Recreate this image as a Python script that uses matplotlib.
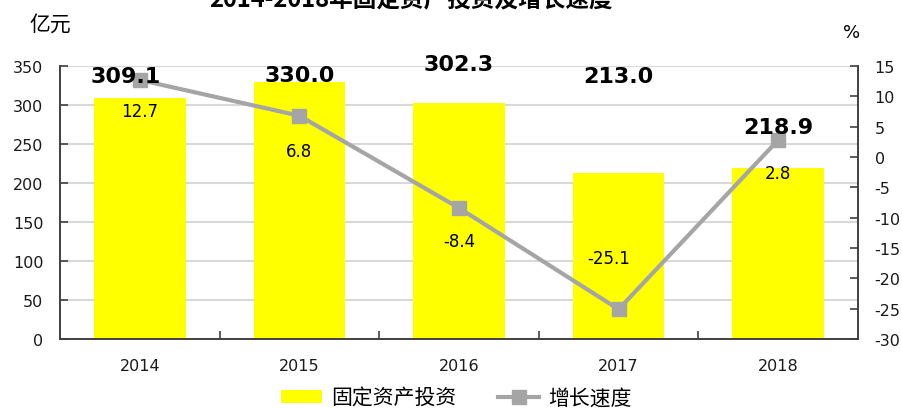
import matplotlib
matplotlib.use("Agg")
import matplotlib.pyplot as plt
from matplotlib.lines import Line2D
from matplotlib.patches import Patch

plt.rcParams['font.family'] = ['Noto Sans CJK SC', 'DejaVu Sans']
plt.rcParams['axes.unicode_minus'] = False

years = ['2014', '2015', '2016', '2017', '2018']
investment = [309.1, 330.0, 302.3, 213.0, 218.9]
growth = [12.7, 6.8, -8.4, -25.1, 2.8]

# label anchor positions (data units)
inv_label_y = [337, 338, 352, 337, 272]
inv_label_dx = [-0.09, 0.0, 0.0, 0.0, 0.0]
growth_label_y = [7.6, 1.0, -13.8, -16.6, -2.6]
growth_label_dx = [0.0, 0.0, 0.0, -0.06, 0.0]

fig = plt.figure(figsize=(9.02, 4.10), dpi=100)
ax = fig.add_axes([60/902, 70/410, 798/902, 273/410])
ax2 = ax.twinx()

x = list(range(len(years)))
ax.bar(x, investment, width=0.575, color='#FFFF00', zorder=2)
ax.set_xlim(-0.5, 4.5)
ax.set_ylim(0, 350)
ax.set_yticks(range(0, 351, 50))
ax.yaxis.grid(True, color='#D9D9D9', linewidth=1.5, zorder=0)
ax.set_axisbelow(True)

ax2.plot(x, growth, color='#A5A5A5', linewidth=3, marker='s', markersize=10,
         markerfacecolor='#A5A5A5', markeredgecolor='#A5A5A5', zorder=3)
ax2.set_ylim(-30, 15)
ax2.set_yticks(range(-30, 16, 5))

ax.set_xticks(x)
ax.set_xticklabels(years)
ax.set_xticks([0.5, 1.5, 2.5, 3.5], minor=True)
ax.tick_params(axis='x', which='major', length=0, pad=14, labelsize=11.5)
ax.tick_params(axis='x', which='minor', direction='in', length=6, width=1.2, color='#404040')
ax.tick_params(axis='y', direction='in', length=6, width=1.2, color='#404040', pad=12, labelsize=11.5)
ax2.tick_params(axis='y', direction='in', length=6, width=1.2, color='#404040', pad=12, labelsize=11.5)
for lab in ax.get_xticklabels() + ax.get_yticklabels() + ax2.get_yticklabels():
    lab.set_family('DejaVu Sans')
    lab.set_color('#1a1a1a')

for a in (ax, ax2):
    a.spines['top'].set_visible(False)
    for s in ('left', 'right', 'bottom'):
        a.spines[s].set_color('#404040')
        a.spines[s].set_linewidth(1.2)

for i, v in enumerate(investment):
    ax2.text(i + inv_label_dx[i], inv_label_y[i], f'{v:.1f}', ha='center', va='center',
             fontsize=16, fontweight='bold', color='black', family='DejaVu Sans', zorder=5,
             transform=ax.transData)
for i, v in enumerate(growth):
    ax2.text(i + growth_label_dx[i], growth_label_y[i], f'{v:.1f}', ha='center', va='center',
             fontsize=12, color='black', family='DejaVu Sans', zorder=5)

fig.text(50/902, 1 - 25/410, '亿元', ha='center', va='center', fontsize=15)
fig.text(852/902, 1 - 33/410, '%', ha='center', va='center', fontsize=13, family='DejaVu Sans')
fig.text(411/902, 1 - 7/410, '2014-2018年固定资产投资及增长速度', ha='center', va='baseline',
         fontsize=17, fontweight='bold')

handles = [Patch(facecolor='#FFFF00', edgecolor='none'),
           Line2D([0], [0], color='#A5A5A5', linewidth=3, marker='s', markersize=10)]
fig.legend(handles, ['固定资产投资', '增长速度'], loc='center', bbox_to_anchor=(456/902, 1 - 399/410),
           ncol=2, frameon=False, fontsize=15, handlelength=2.0, handleheight=0.6,
           handletextpad=0.4, columnspacing=2.0, borderpad=0)

fig.savefig('out.png', dpi=100)
